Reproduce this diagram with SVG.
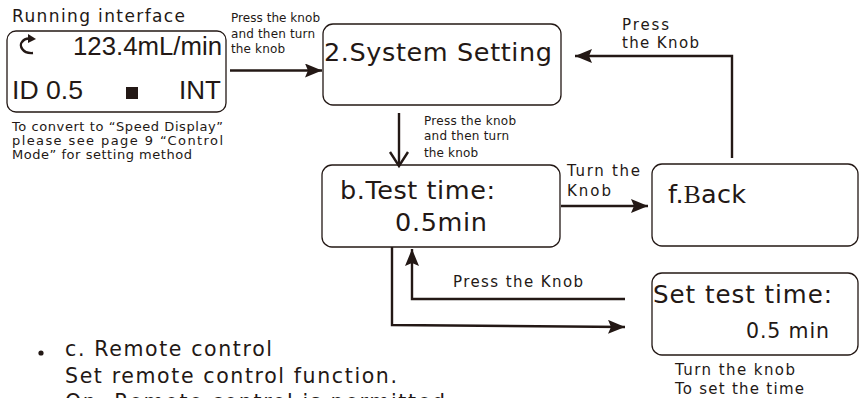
<svg xmlns="http://www.w3.org/2000/svg" width="859" height="398" viewBox="0 0 859 398">
<defs>
<style>
.box{fill:#fff;stroke:#231815;stroke-width:1.3}
.ln{fill:none;stroke:#231815;stroke-width:2.4}
.t{font-family:"DejaVu Sans",sans-serif;fill:#231815}
.a{font-family:"Liberation Sans",Arial,sans-serif;fill:#231815}
</style>
<marker id="ah" markerUnits="userSpaceOnUse" markerWidth="18" markerHeight="14" refX="17" refY="7" orient="auto">
<path d="M0,0 L17,7 L0,14 L3,7 z" fill="#231815"/>
</marker>
</defs>
<rect width="859" height="398" fill="#fff"/>
<g id="running">
<text class="t" x="12" y="22" font-size="17" textLength="173" lengthAdjust="spacing">Running interface</text>
<rect class="box" x="7" y="31" width="219" height="81" rx="9"/>
<path class="ln" d="M33,53 C22,54 19,45 22,42 C24,39 27,38.5 29,38.5" stroke-width="2.6"/>
<path d="M28,34 L36,39 L28,43 z" fill="#231815"/>
<text class="a" x="73" y="55" font-size="25.5" textLength="149" lengthAdjust="spacingAndGlyphs">123.4mL/min</text>
<text class="a" x="12" y="99" font-size="26" textLength="71" lengthAdjust="spacingAndGlyphs">ID 0.5</text>
<rect x="126" y="87" width="12" height="12" fill="#231815"/>
<text class="a" x="221" y="99" font-size="26" text-anchor="end">INT</text>
<text class="t" x="12" y="131" font-size="13" textLength="211" lengthAdjust="spacing">To convert to “Speed Display”</text>
<text class="t" x="12" y="145" font-size="13" textLength="211" lengthAdjust="spacing">please see page 9 “Control</text>
<text class="t" x="12" y="159" font-size="13" textLength="180" lengthAdjust="spacing">Mode” for setting method</text>
</g>
<g id="system">
<rect class="box" x="323" y="24" width="238" height="81" rx="10"/>
<text class="t" x="324" y="61" font-size="25.5" textLength="228" lengthAdjust="spacing">2.System Setting</text>
</g>
<g id="testtime">
<rect class="box" x="322" y="165" width="238" height="82" rx="10"/>
<text class="t" x="340" y="199" font-size="25.5" textLength="155" lengthAdjust="spacing">b.Test time:</text>
<text class="t" x="395" y="231" font-size="25.5" textLength="92" lengthAdjust="spacing">0.5min</text>
</g>
<g id="back">
<rect class="box" x="652" y="164" width="206" height="82" rx="10"/>
<text class="t" x="668" y="203" font-size="25.5" textLength="78" lengthAdjust="spacing">f.<tspan font-family="Liberation Serif,serif">B</tspan>ack</text>
</g>
<g id="settime">
<rect class="box" x="652" y="273" width="206" height="82" rx="10"/>
<text class="t" x="653" y="303" font-size="24.5" textLength="179" lengthAdjust="spacing">Set test time:</text>
<text class="t" x="746" y="338" font-size="20.5" textLength="83" lengthAdjust="spacing">0.5 min</text>
<text class="t" x="675" y="375" font-size="15" textLength="120" lengthAdjust="spacing">Turn the knob</text>
<text class="t" x="675" y="394" font-size="15" textLength="129" lengthAdjust="spacing">To set the time</text>
</g>
<g id="connectors">
<line class="ln" x1="230" y1="70.5" x2="322" y2="70.5" marker-end="url(#ah)"/>
<text class="t" x="231" y="22" font-size="12" textLength="89" lengthAdjust="spacing">Press the knob</text>
<text class="t" x="231" y="37.5" font-size="12" textLength="84" lengthAdjust="spacing">and then turn</text>
<text class="t" x="231" y="53" font-size="12" textLength="54" lengthAdjust="spacing">the knob</text>
<line class="ln" x1="399" y1="113" x2="399" y2="166"/>
<polyline class="ln" points="390,152 399,166 408,152" stroke-width="2"/>
<text class="t" x="424" y="124.5" font-size="12" textLength="92" lengthAdjust="spacing">Press the knob</text>
<text class="t" x="424" y="140" font-size="12" textLength="85" lengthAdjust="spacing">and then turn</text>
<text class="t" x="424" y="156.5" font-size="12" textLength="54" lengthAdjust="spacing">the knob</text>
<polyline class="ln" points="732,158 732,56 575,56" marker-end="url(#ah)"/>
<text class="t" x="622" y="30" font-size="15" textLength="47" lengthAdjust="spacing">Press</text>
<text class="t" x="622" y="48" font-size="15" textLength="77" lengthAdjust="spacing">the Knob</text>
<line class="ln" x1="561" y1="206" x2="648" y2="206" marker-end="url(#ah)"/>
<text class="t" x="567" y="176" font-size="15" textLength="73" lengthAdjust="spacing">Turn the</text>
<text class="t" x="567" y="196" font-size="15" textLength="44" lengthAdjust="spacing">Knob</text>
<polyline class="ln" points="625,299 412,299 412,249" marker-end="url(#ah)"/>
<text class="t" x="453" y="287" font-size="15" textLength="130" lengthAdjust="spacing">Press the Knob</text>
<polyline class="ln" points="392,247 392,325 625,327" marker-end="url(#ah)"/>
</g>
<g id="notes">
<circle cx="41" cy="353" r="2.6" fill="#231815"/>
<text class="t" x="65" y="356" font-size="20.5" textLength="207" lengthAdjust="spacing">c. Remote control</text>
<text class="t" x="65" y="383" font-size="20.5" textLength="332" lengthAdjust="spacing">Set remote control function.</text>
<text class="t" x="65" y="409" font-size="20.5" textLength="380" lengthAdjust="spacing">On: Remote control is permitted</text>
</g>
</svg>
